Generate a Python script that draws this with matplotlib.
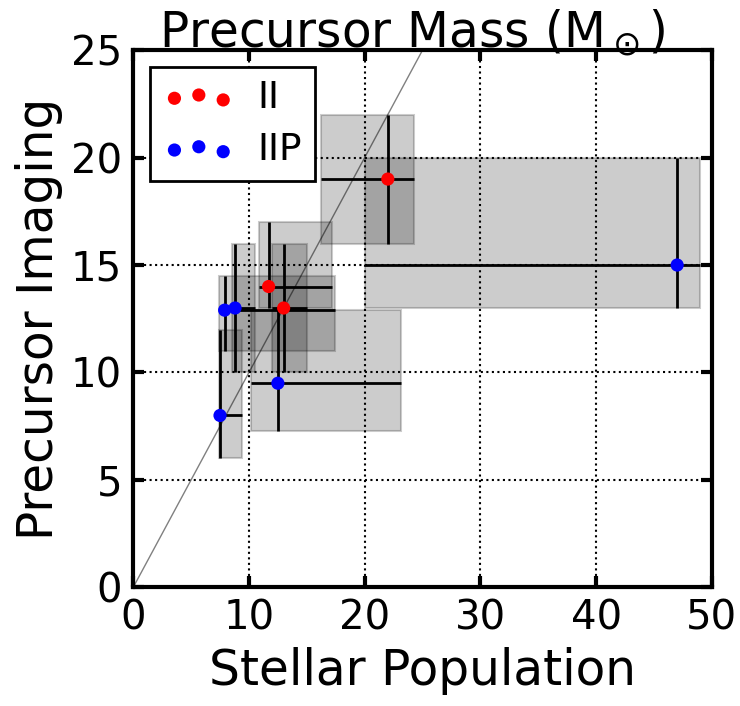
import numpy as np
import matplotlib
matplotlib.use('Agg')
import matplotlib.pyplot as plt
from matplotlib.patches import Rectangle

# type II (red)
ii_x = [22.0, 11.7, 13.0]
ii_y = [19.0, 14.0, 13.0]
ii_xlo = [16.2, 10.9, 12.0]
ii_xhi = [24.3, 17.2, 15.0]
ii_ylo = [16.0, 13.0, 10.0]
ii_yhi = [22.0, 17.0, 16.0]

# type IIP (blue)
iip_x = [47.0, 12.5, 7.5, 7.9, 8.8]
iip_y = [15.0, 9.5, 8.0, 12.9, 13.0]
iip_xlo = [20.0, 10.2, 7.4, 7.4, 8.5]
iip_xhi = [49.0, 23.1, 9.4, 17.4, 10.5]
iip_ylo = [13.0, 7.3, 6.0, 11.0, 10.0]
iip_yhi = [20.0, 12.9, 12.0, 14.5, 16.0]

plt.rcParams['font.family'] = 'DejaVu Sans'
plt.rcParams['mathtext.fontset'] = 'dejavusans'

fig = plt.figure(figsize=(7.4, 7.06), dpi=100)
ax = fig.add_axes([0.18, 0.168, 0.782, 0.761])

# one-to-one line
ax.plot([0, 50], [0, 50], color='gray', lw=1, zorder=1)


def draw_set(ax, x, y, xlo, xhi, ylo, yhi, color, label):
    x = np.array(x); y = np.array(y)
    xlo = np.array(xlo); xhi = np.array(xhi)
    ylo = np.array(ylo); yhi = np.array(yhi)
    for i in range(len(x)):
        ax.add_patch(Rectangle((xlo[i], ylo[i]), xhi[i] - xlo[i], yhi[i] - ylo[i],
                               facecolor='k', edgecolor='k', alpha=0.2, lw=1.5, zorder=2))
    ax.errorbar(x, y, xerr=[x - xlo, xhi - x], yerr=[y - ylo, yhi - y],
                fmt='none', ecolor='k', elinewidth=2, capsize=0, zorder=3)
    ax.scatter(x, y, s=90, c=color, edgecolors='none', label=label, zorder=4)


draw_set(ax, ii_x, ii_y, ii_xlo, ii_xhi, ii_ylo, ii_yhi, 'r', 'II')
draw_set(ax, iip_x, iip_y, iip_xlo, iip_xhi, iip_ylo, iip_yhi, 'b', 'IIP')

ax.set_xlim(0, 50)
ax.set_ylim(0, 25)
ax.set_xticks([0, 10, 20, 30, 40, 50])
ax.set_yticks([0, 5, 10, 15, 20, 25])
ax.grid(True, color='k', linestyle=':', lw=1.5)

for sp in ax.spines.values():
    sp.set_linewidth(3)
ax.tick_params(direction='in', length=8, width=3, labelsize=29, pad=8,
               top=True, right=True)

ax.set_xlabel('Stellar Population', fontsize=35, labelpad=6)
ax.set_ylabel('Precursor Imaging', fontsize=35, labelpad=6)
ax.set_title(r'Precursor Mass (M$_\odot$)', fontsize=35, pad=2, x=0.483)

leg = ax.legend(loc='upper left', scatterpoints=3, scatteryoffsets=[0.375, 0.5, 0.3125],
                fontsize=27, frameon=True, fancybox=False, framealpha=1,
                borderpad=0.35, handlelength=1.9, handletextpad=0.6,
                labelspacing=0.42, borderaxespad=0.45)
leg.get_frame().set_edgecolor('k')
leg.get_frame().set_linewidth(2)
leg.set_zorder(10)

fig.savefig('out.png', dpi=100)
